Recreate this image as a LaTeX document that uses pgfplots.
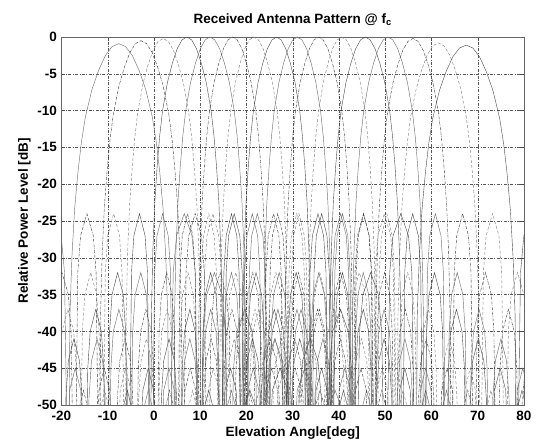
\documentclass[border=0pt]{standalone}
\usepackage{pgfplots}
\pgfplotsset{compat=1.18}
\usepackage{fontspec}
\setmainfont{Liberation Sans}
\tikzset{
 s1/.style={black!55, line width=0.45pt},
 s2/.style={black!80, line width=0.4pt, densely dashdotted},
 s3/.style={black!50, line width=0.45pt, densely dashed},
 s4/.style={black!72, line width=0.4pt},
}
\begin{document}
\begin{tikzpicture}
\useasboundingbox (-61.5pt,-39pt) rectangle (478.5pt,405pt);
\begin{axis}[
  at={(0pt,0pt)}, anchor=south west,
  scale only axis, width=462.5pt, height=368pt,
  xmin=-20, xmax=80, ymin=-50, ymax=0,
  xtick={-20,-10,...,80}, ytick={-50,-45,...,0},
  grid=major,
  grid style={black!65, line width=0.35pt, dash pattern=on 3pt off 1.5pt on 0.8pt off 1.5pt},
  tick align=inside, major tick length=4pt,
  tick style={black!70, line width=0.4pt},
  axis line style={black!60, line width=0.4pt},
  /pgf/number format/assume math mode=true,
  ticklabel style={font=\fontsize{13.5}{15}\selectfont\bfseries},
  xticklabel style={yshift=-2.5pt},
  yticklabel style={xshift=-1pt},
  label style={font=\fontsize{13.5}{15}\selectfont\bfseries},
  xlabel style={yshift=1pt},
  title style={font=\fontsize{13.5}{15}\selectfont\bfseries, yshift=2pt},
  title={Received Antenna Pattern @ f\textsubscript{c}},
  xlabel={Elevation Angle[deg]},
  ylabel={Relative Power Level [dB]},
  clip=true,
]
% beam 1
\addplot[s1] coordinates {(-21.74,-24) (-20.07,-27) (-19.35,-32) (-18.48,-70) (-18.19,-38) (-17.75,-29.9) (-17.17,-23.4) (-16.45,-18.4) (-15.72,-14.4) (-14.85,-10.9) (-13.4,-7.1) (-11.95,-4.5) (-10.5,-2.5) (-9.05,-1.3) (-7.6,-0.9) (-6.15,-1.3) (-4.7,-2.5) (-3.25,-4.5) (-1.8,-7.1) (-0.35,-10.9) (0.52,-14.4) (1.25,-18.4) (1.97,-23.4) (2.55,-29.9) (2.99,-38) (3.28,-70) (4.15,-32) (4.87,-27) (6.54,-24) (8.21,-27) (8.93,-32) (9.8,-70) (10.67,-40) (11.4,-35) (13.06,-32) (14.73,-35) (15.46,-40) (16.33,-70) (17.2,-45) (17.92,-40) (19.59,-37) (21.26,-40) (21.98,-45) (22.85,-70) (23.72,-49) (24.45,-44) (26.11,-41) (27.78,-44) (28.51,-49) (29.38,-70) (30.97,-48) (32.64,-45) (34.31,-48) (35.9,-70) (37.5,-51) (39.16,-48) (40.83,-51) (42.43,-70)};
% beam 2
\addplot[s2] coordinates {(-21.28,-35) (-19.9,-32) (-18.52,-35) (-17.92,-40) (-17.2,-70) (-16.48,-32) (-15.88,-27) (-14.5,-24) (-13.12,-27) (-12.52,-32) (-11.8,-70) (-11.56,-38) (-11.2,-29.5) (-10.72,-23) (-10.12,-18) (-9.52,-14) (-8.8,-10.5) (-7.6,-6.7) (-6.4,-4.1) (-5.2,-2.1) (-4.0,-0.9) (-2.8,-0.5) (-1.6,-0.9) (-0.4,-2.1) (0.8,-4.1) (2.0,-6.7) (3.2,-10.5) (3.92,-14) (4.52,-18) (5.12,-23) (5.6,-29.5) (5.96,-38) (6.2,-70) (6.92,-32) (7.52,-27) (8.9,-24) (10.28,-27) (10.88,-32) (11.6,-70) (12.32,-40) (12.92,-35) (14.3,-32) (15.68,-35) (16.28,-40) (17.0,-70) (17.72,-45) (18.32,-40) (19.7,-37) (21.08,-40) (21.68,-45) (22.4,-70) (23.12,-49) (23.72,-44) (25.1,-41) (26.48,-44) (27.08,-49) (27.8,-70) (29.12,-48) (30.5,-45) (31.88,-48) (33.2,-70) (34.52,-51) (35.9,-48) (37.28,-51) (38.6,-70)};
% beam 3
\addplot[s3] coordinates {(-20.44,-45) (-19.89,-40) (-18.63,-37) (-17.36,-40) (-16.81,-45) (-16.15,-70) (-15.49,-40) (-14.94,-35) (-13.68,-32) (-12.41,-35) (-11.86,-40) (-11.2,-70) (-10.54,-32) (-9.99,-27) (-8.73,-24) (-7.46,-27) (-6.91,-32) (-6.25,-70) (-6.03,-38) (-5.7,-29.2) (-5.26,-22.7) (-4.71,-17.7) (-4.16,-13.7) (-3.5,-10.2) (-2.4,-6.4) (-1.3,-3.8) (-0.2,-1.8) (0.9,-0.6) (2.0,-0.2) (3.1,-0.6) (4.2,-1.8) (5.3,-3.8) (6.4,-6.4) (7.5,-10.2) (8.16,-13.7) (8.71,-17.7) (9.26,-22.7) (9.7,-29.2) (10.03,-38) (10.25,-70) (10.91,-32) (11.46,-27) (12.73,-24) (13.99,-27) (14.54,-32) (15.2,-70) (15.86,-40) (16.41,-35) (17.68,-32) (18.94,-35) (19.49,-40) (20.15,-70) (20.81,-45) (21.36,-40) (22.63,-37) (23.89,-40) (24.44,-45) (25.1,-70) (25.76,-49) (26.31,-44) (27.58,-41) (28.84,-44) (29.39,-49) (30.05,-70) (31.26,-48) (32.53,-45) (33.79,-48) (35.0,-70) (36.21,-51) (37.48,-48) (38.74,-51) (39.95,-70)};
% beam 4
\addplot[s4] coordinates {(-20.83,-48) (-19.68,-70) (-19.05,-49) (-18.52,-44) (-17.31,-41) (-16.11,-44) (-15.58,-49) (-14.95,-70) (-14.32,-45) (-13.8,-40) (-12.59,-37) (-11.38,-40) (-10.86,-45) (-10.23,-70) (-9.6,-40) (-9.07,-35) (-7.86,-32) (-6.66,-35) (-6.13,-40) (-5.5,-70) (-4.87,-32) (-4.35,-27) (-3.14,-24) (-1.93,-27) (-1.41,-32) (-0.78,-70) (-0.57,-38) (-0.25,-29) (0.17,-22.5) (0.69,-17.5) (1.22,-13.5) (1.85,-10) (2.9,-6.2) (3.95,-3.6) (5.0,-1.6) (6.05,-0.4) (7.1,0) (8.15,-0.4) (9.2,-1.6) (10.25,-3.6) (11.3,-6.2) (12.35,-10) (12.98,-13.5) (13.51,-17.5) (14.03,-22.5) (14.45,-29) (14.77,-38) (14.98,-70) (15.61,-32) (16.13,-27) (17.34,-24) (18.55,-27) (19.07,-32) (19.7,-70) (20.33,-40) (20.86,-35) (22.06,-32) (23.27,-35) (23.8,-40) (24.43,-70) (25.06,-45) (25.58,-40) (26.79,-37) (28.0,-40) (28.52,-45) (29.15,-70) (29.78,-49) (30.31,-44) (31.51,-41) (32.72,-44) (33.25,-49) (33.88,-70) (35.03,-48) (36.24,-45) (37.45,-48) (38.6,-70) (39.76,-51) (40.96,-48) (42.17,-51) (43.33,-70)};
% beam 5
\addplot[s1] coordinates {(-20.56,-51) (-19.4,-70) (-18.25,-48) (-17.04,-45) (-15.83,-48) (-14.68,-70) (-14.05,-49) (-13.52,-44) (-12.31,-41) (-11.11,-44) (-10.58,-49) (-9.95,-70) (-9.32,-45) (-8.8,-40) (-7.59,-37) (-6.38,-40) (-5.86,-45) (-5.23,-70) (-4.6,-40) (-4.07,-35) (-2.86,-32) (-1.66,-35) (-1.13,-40) (-0.5,-70) (0.13,-32) (0.65,-27) (1.86,-24) (3.07,-27) (3.59,-32) (4.22,-70) (4.43,-38) (4.75,-29) (5.17,-22.5) (5.69,-17.5) (6.22,-13.5) (6.85,-10) (7.9,-6.2) (8.95,-3.6) (10.0,-1.6) (11.05,-0.4) (12.1,0) (13.15,-0.4) (14.2,-1.6) (15.25,-3.6) (16.3,-6.2) (17.35,-10) (17.98,-13.5) (18.51,-17.5) (19.03,-22.5) (19.45,-29) (19.77,-38) (19.98,-70) (20.61,-32) (21.13,-27) (22.34,-24) (23.55,-27) (24.07,-32) (24.7,-70) (25.33,-40) (25.86,-35) (27.06,-32) (28.27,-35) (28.8,-40) (29.43,-70) (30.06,-45) (30.58,-40) (31.79,-37) (33.0,-40) (33.52,-45) (34.15,-70) (34.78,-49) (35.31,-44) (36.51,-41) (37.72,-44) (38.25,-49) (38.88,-70) (40.03,-48) (41.24,-45) (42.45,-48) (43.6,-70) (44.76,-51) (45.96,-48) (47.17,-51) (48.33,-70)};
% beam 6
\addplot[s2] coordinates {(-17.5,-70) (-16.4,-51) (-15.25,-48) (-14.1,-51) (-13.0,-70) (-11.9,-48) (-10.75,-45) (-9.6,-48) (-8.5,-70) (-7.9,-49) (-7.4,-44) (-6.25,-41) (-5.1,-44) (-4.6,-49) (-4.0,-70) (-3.4,-45) (-2.9,-40) (-1.75,-37) (-0.6,-40) (-0.1,-45) (0.5,-70) (1.1,-40) (1.6,-35) (2.75,-32) (3.9,-35) (4.4,-40) (5.0,-70) (5.6,-32) (6.1,-27) (7.25,-24) (8.4,-27) (8.9,-32) (9.5,-70) (9.7,-38) (10.0,-29) (10.4,-22.5) (10.9,-17.5) (11.4,-13.5) (12,-10) (13,-6.2) (14,-3.6) (15,-1.6) (16,-0.4) (17,0) (18,-0.4) (19,-1.6) (20,-3.6) (21,-6.2) (22,-10) (22.6,-13.5) (23.1,-17.5) (23.6,-22.5) (24.0,-29) (24.3,-38) (24.5,-70) (25.1,-32) (25.6,-27) (26.75,-24) (27.9,-27) (28.4,-32) (29.0,-70) (29.6,-40) (30.1,-35) (31.25,-32) (32.4,-35) (32.9,-40) (33.5,-70) (34.1,-45) (34.6,-40) (35.75,-37) (36.9,-40) (37.4,-45) (38.0,-70) (38.6,-49) (39.1,-44) (40.25,-41) (41.4,-44) (41.9,-49) (42.5,-70) (43.6,-48) (44.75,-45) (45.9,-48) (47.0,-70) (48.1,-51) (49.25,-48) (50.4,-51) (51.5,-70)};
% beam 7
\addplot[s3] coordinates {(-12.9,-70) (-11.8,-51) (-10.65,-48) (-9.5,-51) (-8.4,-70) (-7.3,-48) (-6.15,-45) (-5.0,-48) (-3.9,-70) (-3.3,-49) (-2.8,-44) (-1.65,-41) (-0.5,-44) (0.0,-49) (0.6,-70) (1.2,-45) (1.7,-40) (2.85,-37) (4.0,-40) (4.5,-45) (5.1,-70) (5.7,-40) (6.2,-35) (7.35,-32) (8.5,-35) (9.0,-40) (9.6,-70) (10.2,-32) (10.7,-27) (11.85,-24) (13.0,-27) (13.5,-32) (14.1,-70) (14.3,-38) (14.6,-29) (15.0,-22.5) (15.5,-17.5) (16.0,-13.5) (16.6,-10) (17.6,-6.2) (18.6,-3.6) (19.6,-1.6) (20.6,-0.4) (21.6,0) (22.6,-0.4) (23.6,-1.6) (24.6,-3.6) (25.6,-6.2) (26.6,-10) (27.2,-13.5) (27.7,-17.5) (28.2,-22.5) (28.6,-29) (28.9,-38) (29.1,-70) (29.7,-32) (30.2,-27) (31.35,-24) (32.5,-27) (33.0,-32) (33.6,-70) (34.2,-40) (34.7,-35) (35.85,-32) (37.0,-35) (37.5,-40) (38.1,-70) (38.7,-45) (39.2,-40) (40.35,-37) (41.5,-40) (42.0,-45) (42.6,-70) (43.2,-49) (43.7,-44) (44.85,-41) (46.0,-44) (46.5,-49) (47.1,-70) (48.2,-48) (49.35,-45) (50.5,-48) (51.6,-70) (52.7,-51) (53.85,-48) (55.0,-51) (56.1,-70)};
% beam 8
\addplot[s4] coordinates {(-8.0,-70) (-6.9,-51) (-5.75,-48) (-4.6,-51) (-3.5,-70) (-2.4,-48) (-1.25,-45) (-0.1,-48) (1.0,-70) (1.6,-49) (2.1,-44) (3.25,-41) (4.4,-44) (4.9,-49) (5.5,-70) (6.1,-45) (6.6,-40) (7.75,-37) (8.9,-40) (9.4,-45) (10.0,-70) (10.6,-40) (11.1,-35) (12.25,-32) (13.4,-35) (13.9,-40) (14.5,-70) (15.1,-32) (15.6,-27) (16.75,-24) (17.9,-27) (18.4,-32) (19.0,-70) (19.2,-38) (19.5,-29) (19.9,-22.5) (20.4,-17.5) (20.9,-13.5) (21.5,-10) (22.5,-6.2) (23.5,-3.6) (24.5,-1.6) (25.5,-0.4) (26.5,0) (27.5,-0.4) (28.5,-1.6) (29.5,-3.6) (30.5,-6.2) (31.5,-10) (32.1,-13.5) (32.6,-17.5) (33.1,-22.5) (33.5,-29) (33.8,-38) (34.0,-70) (34.6,-32) (35.1,-27) (36.25,-24) (37.4,-27) (37.9,-32) (38.5,-70) (39.1,-40) (39.6,-35) (40.75,-32) (41.9,-35) (42.4,-40) (43.0,-70) (43.6,-45) (44.1,-40) (45.25,-37) (46.4,-40) (46.9,-45) (47.5,-70) (48.1,-49) (48.6,-44) (49.75,-41) (50.9,-44) (51.4,-49) (52.0,-70) (53.1,-48) (54.25,-45) (55.4,-48) (56.5,-70) (57.6,-51) (58.75,-48) (59.9,-51) (61.0,-70)};
% beam 9
\addplot[s1] coordinates {(-3.5,-70) (-2.4,-51) (-1.25,-48) (-0.1,-51) (1.0,-70) (2.1,-48) (3.25,-45) (4.4,-48) (5.5,-70) (6.1,-49) (6.6,-44) (7.75,-41) (8.9,-44) (9.4,-49) (10.0,-70) (10.6,-45) (11.1,-40) (12.25,-37) (13.4,-40) (13.9,-45) (14.5,-70) (15.1,-40) (15.6,-35) (16.75,-32) (17.9,-35) (18.4,-40) (19.0,-70) (19.6,-32) (20.1,-27) (21.25,-24) (22.4,-27) (22.9,-32) (23.5,-70) (23.7,-38) (24.0,-29) (24.4,-22.5) (24.9,-17.5) (25.4,-13.5) (26.0,-10) (27.0,-6.2) (28.0,-3.6) (29.0,-1.6) (30.0,-0.4) (31.0,0) (32.0,-0.4) (33.0,-1.6) (34.0,-3.6) (35.0,-6.2) (36.0,-10) (36.6,-13.5) (37.1,-17.5) (37.6,-22.5) (38.0,-29) (38.3,-38) (38.5,-70) (39.1,-32) (39.6,-27) (40.75,-24) (41.9,-27) (42.4,-32) (43.0,-70) (43.6,-40) (44.1,-35) (45.25,-32) (46.4,-35) (46.9,-40) (47.5,-70) (48.1,-45) (48.6,-40) (49.75,-37) (50.9,-40) (51.4,-45) (52.0,-70) (52.6,-49) (53.1,-44) (54.25,-41) (55.4,-44) (55.9,-49) (56.5,-70) (57.6,-48) (58.75,-45) (59.9,-48) (61.0,-70) (62.1,-51) (63.25,-48) (64.4,-51) (65.5,-70)};
% beam 10
\addplot[s2] coordinates {(1.1,-70) (2.2,-51) (3.35,-48) (4.5,-51) (5.6,-70) (6.7,-48) (7.85,-45) (9.0,-48) (10.1,-70) (10.7,-49) (11.2,-44) (12.35,-41) (13.5,-44) (14.0,-49) (14.6,-70) (15.2,-45) (15.7,-40) (16.85,-37) (18.0,-40) (18.5,-45) (19.1,-70) (19.7,-40) (20.2,-35) (21.35,-32) (22.5,-35) (23.0,-40) (23.6,-70) (24.2,-32) (24.7,-27) (25.85,-24) (27.0,-27) (27.5,-32) (28.1,-70) (28.3,-38) (28.6,-29) (29.0,-22.5) (29.5,-17.5) (30.0,-13.5) (30.6,-10) (31.6,-6.2) (32.6,-3.6) (33.6,-1.6) (34.6,-0.4) (35.6,0) (36.6,-0.4) (37.6,-1.6) (38.6,-3.6) (39.6,-6.2) (40.6,-10) (41.2,-13.5) (41.7,-17.5) (42.2,-22.5) (42.6,-29) (42.9,-38) (43.1,-70) (43.7,-32) (44.2,-27) (45.35,-24) (46.5,-27) (47.0,-32) (47.6,-70) (48.2,-40) (48.7,-35) (49.85,-32) (51.0,-35) (51.5,-40) (52.1,-70) (52.7,-45) (53.2,-40) (54.35,-37) (55.5,-40) (56.0,-45) (56.6,-70) (57.2,-49) (57.7,-44) (58.85,-41) (60.0,-44) (60.5,-49) (61.1,-70) (62.2,-48) (63.35,-45) (64.5,-48) (65.6,-70) (66.7,-51) (67.85,-48) (69.0,-51) (70.1,-70)};
% beam 11
\addplot[s3] coordinates {(6.1,-70) (7.2,-51) (8.35,-48) (9.5,-51) (10.6,-70) (11.7,-48) (12.85,-45) (14.0,-48) (15.1,-70) (15.7,-49) (16.2,-44) (17.35,-41) (18.5,-44) (19.0,-49) (19.6,-70) (20.2,-45) (20.7,-40) (21.85,-37) (23.0,-40) (23.5,-45) (24.1,-70) (24.7,-40) (25.2,-35) (26.35,-32) (27.5,-35) (28.0,-40) (28.6,-70) (29.2,-32) (29.7,-27) (30.85,-24) (32.0,-27) (32.5,-32) (33.1,-70) (33.3,-38) (33.6,-29) (34.0,-22.5) (34.5,-17.5) (35.0,-13.5) (35.6,-10) (36.6,-6.2) (37.6,-3.6) (38.6,-1.6) (39.6,-0.4) (40.6,0) (41.6,-0.4) (42.6,-1.6) (43.6,-3.6) (44.6,-6.2) (45.6,-10) (46.2,-13.5) (46.7,-17.5) (47.2,-22.5) (47.6,-29) (47.9,-38) (48.1,-70) (48.7,-32) (49.2,-27) (50.35,-24) (51.5,-27) (52.0,-32) (52.6,-70) (53.2,-40) (53.7,-35) (54.85,-32) (56.0,-35) (56.5,-40) (57.1,-70) (57.7,-45) (58.2,-40) (59.35,-37) (60.5,-40) (61.0,-45) (61.6,-70) (62.2,-49) (62.7,-44) (63.85,-41) (65.0,-44) (65.5,-49) (66.1,-70) (67.2,-48) (68.35,-45) (69.5,-48) (70.6,-70) (71.7,-51) (72.85,-48) (74.0,-51) (75.1,-70)};
% beam 12
\addplot[s4] coordinates {(9.47,-70) (10.63,-51) (11.84,-48) (13.04,-51) (14.2,-70) (15.35,-48) (16.56,-45) (17.77,-48) (18.92,-70) (19.55,-49) (20.08,-44) (21.29,-41) (22.49,-44) (23.02,-49) (23.65,-70) (24.28,-45) (24.8,-40) (26.01,-37) (27.22,-40) (27.74,-45) (28.37,-70) (29.0,-40) (29.53,-35) (30.74,-32) (31.94,-35) (32.47,-40) (33.1,-70) (33.73,-32) (34.25,-27) (35.46,-24) (36.67,-27) (37.19,-32) (37.82,-70) (38.03,-38) (38.35,-29) (38.77,-22.5) (39.29,-17.5) (39.82,-13.5) (40.45,-10) (41.5,-6.2) (42.55,-3.6) (43.6,-1.6) (44.65,-0.4) (45.7,0) (46.75,-0.4) (47.8,-1.6) (48.85,-3.6) (49.9,-6.2) (50.95,-10) (51.58,-13.5) (52.11,-17.5) (52.63,-22.5) (53.05,-29) (53.37,-38) (53.58,-70) (54.21,-32) (54.73,-27) (55.94,-24) (57.15,-27) (57.67,-32) (58.3,-70) (58.93,-40) (59.46,-35) (60.66,-32) (61.87,-35) (62.4,-40) (63.03,-70) (63.66,-45) (64.18,-40) (65.39,-37) (66.6,-40) (67.12,-45) (67.75,-70) (68.38,-49) (68.91,-44) (70.11,-41) (71.32,-44) (71.85,-49) (72.48,-70) (73.63,-48) (74.84,-45) (76.05,-48) (77.2,-70) (78.36,-51) (79.56,-48) (80.77,-51)};
% beam 13
\addplot[s1] coordinates {(14.37,-70) (15.53,-51) (16.74,-48) (17.94,-51) (19.1,-70) (20.25,-48) (21.46,-45) (22.67,-48) (23.82,-70) (24.45,-49) (24.98,-44) (26.19,-41) (27.39,-44) (27.92,-49) (28.55,-70) (29.18,-45) (29.7,-40) (30.91,-37) (32.12,-40) (32.64,-45) (33.27,-70) (33.9,-40) (34.43,-35) (35.64,-32) (36.84,-35) (37.37,-40) (38.0,-70) (38.63,-32) (39.15,-27) (40.36,-24) (41.57,-27) (42.09,-32) (42.72,-70) (42.93,-38) (43.25,-29) (43.67,-22.5) (44.19,-17.5) (44.72,-13.5) (45.35,-10) (46.4,-6.2) (47.45,-3.6) (48.5,-1.6) (49.55,-0.4) (50.6,0) (51.65,-0.4) (52.7,-1.6) (53.75,-3.6) (54.8,-6.2) (55.85,-10) (56.48,-13.5) (57.01,-17.5) (57.53,-22.5) (57.95,-29) (58.27,-38) (58.48,-70) (59.11,-32) (59.63,-27) (60.84,-24) (62.05,-27) (62.57,-32) (63.2,-70) (63.83,-40) (64.36,-35) (65.56,-32) (66.77,-35) (67.3,-40) (67.93,-70) (68.56,-45) (69.08,-40) (70.29,-37) (71.5,-40) (72.02,-45) (72.65,-70) (73.28,-49) (73.81,-44) (75.01,-41) (76.22,-44) (76.75,-49) (77.38,-70) (78.53,-48) (79.74,-45) (80.95,-48)};
% beam 14
\addplot[s2] coordinates {(18.05,-70) (19.26,-51) (20.52,-48) (21.79,-51) (23.0,-70) (24.21,-48) (25.47,-45) (26.74,-48) (27.95,-70) (28.61,-49) (29.16,-44) (30.42,-41) (31.69,-44) (32.24,-49) (32.9,-70) (33.56,-45) (34.11,-40) (35.37,-37) (36.64,-40) (37.19,-45) (37.85,-70) (38.51,-40) (39.06,-35) (40.32,-32) (41.59,-35) (42.14,-40) (42.8,-70) (43.46,-32) (44.01,-27) (45.27,-24) (46.54,-27) (47.09,-32) (47.75,-70) (47.97,-38) (48.3,-29.2) (48.74,-22.7) (49.29,-17.7) (49.84,-13.7) (50.5,-10.2) (51.6,-6.4) (52.7,-3.8) (53.8,-1.8) (54.9,-0.6) (56.0,-0.2) (57.1,-0.6) (58.2,-1.8) (59.3,-3.8) (60.4,-6.4) (61.5,-10.2) (62.16,-13.7) (62.71,-17.7) (63.26,-22.7) (63.7,-29.2) (64.03,-38) (64.25,-70) (64.91,-32) (65.46,-27) (66.73,-24) (67.99,-27) (68.54,-32) (69.2,-70) (69.86,-40) (70.41,-35) (71.68,-32) (72.94,-35) (73.49,-40) (74.15,-70) (74.81,-45) (75.36,-40) (76.63,-37) (77.89,-40) (78.44,-45) (79.1,-70) (79.76,-49) (80.31,-44)};
% beam 15
\addplot[s3] coordinates {(20.1,-70) (21.42,-51) (22.8,-48) (24.18,-51) (25.5,-70) (26.82,-48) (28.2,-45) (29.58,-48) (30.9,-70) (31.62,-49) (32.22,-44) (33.6,-41) (34.98,-44) (35.58,-49) (36.3,-70) (37.02,-45) (37.62,-40) (39.0,-37) (40.38,-40) (40.98,-45) (41.7,-70) (42.42,-40) (43.02,-35) (44.4,-32) (45.78,-35) (46.38,-40) (47.1,-70) (47.82,-32) (48.42,-27) (49.8,-24) (51.18,-27) (51.78,-32) (52.5,-70) (52.74,-38) (53.1,-29.8) (53.58,-23.3) (54.18,-18.3) (54.78,-14.3) (55.5,-10.8) (56.7,-7.0) (57.9,-4.4) (59.1,-2.4) (60.3,-1.2) (61.5,-0.8) (62.7,-1.2) (63.9,-2.4) (65.1,-4.4) (66.3,-7.0) (67.5,-10.8) (68.22,-14.3) (68.82,-18.3) (69.42,-23.3) (69.9,-29.8) (70.26,-38) (70.5,-70) (71.22,-32) (71.82,-27) (73.2,-24) (74.58,-27) (75.18,-32) (75.9,-70) (76.62,-40) (77.22,-35) (78.6,-32) (79.98,-35) (80.58,-40)};
% beam 16
\addplot[s4] coordinates {(17.47,-70) (19.07,-51) (20.74,-48) (22.4,-51) (24.0,-70) (25.59,-48) (27.26,-45) (28.93,-48) (30.52,-70) (31.39,-49) (32.12,-44) (33.79,-41) (35.45,-44) (36.18,-49) (37.05,-70) (37.92,-45) (38.64,-40) (40.31,-37) (41.98,-40) (42.7,-45) (43.57,-70) (44.44,-40) (45.17,-35) (46.84,-32) (48.5,-35) (49.23,-40) (50.1,-70) (50.97,-32) (51.69,-27) (53.36,-24) (55.03,-27) (55.75,-32) (56.62,-70) (56.91,-38) (57.35,-30.1) (57.93,-23.6) (58.65,-18.6) (59.38,-14.6) (60.25,-11.1) (61.7,-7.3) (63.15,-4.7) (64.6,-2.7) (66.05,-1.5) (67.5,-1.1) (68.95,-1.5) (70.4,-2.7) (71.85,-4.7) (73.3,-7.3) (74.75,-11.1) (75.62,-14.6) (76.35,-18.6) (77.07,-23.6) (77.65,-30.1) (78.09,-38) (78.38,-70) (79.25,-32) (79.97,-27) (81.64,-24)};
\end{axis}
\end{tikzpicture}
\end{document}
